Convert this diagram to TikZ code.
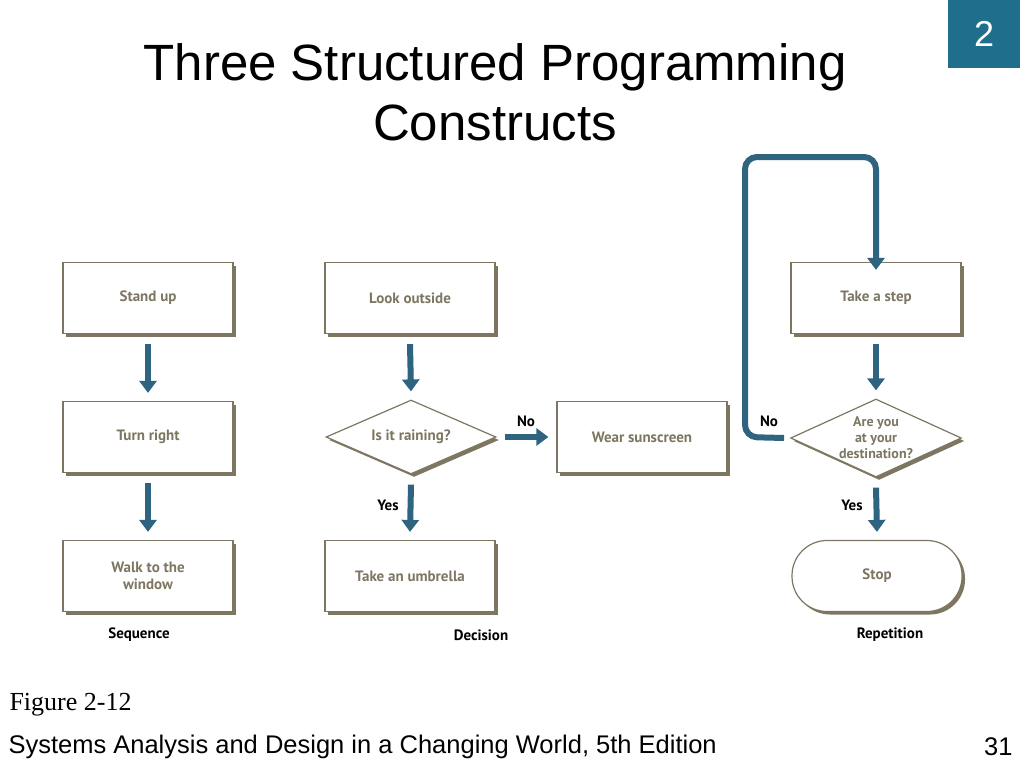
\documentclass[tikz,border=0pt]{standalone}
\usepackage{fontspec}
\setmainfont{Liberation Sans}
\newfontfamily\boxfont{PT Sans}
\newfontfamily\timesf{Liberation Serif}
\usetikzlibrary{arrows.meta,shapes.geometric,shadows}
\definecolor{flowblue}{HTML}{2E6480}
\definecolor{olive}{HTML}{7D7660}
\definecolor{tabblue}{HTML}{1F6E8C}
\begin{document}
\begin{tikzpicture}[x=1pt,y=-1pt,
  shad/.style={drop shadow={shadow xshift=3pt,shadow yshift=-3pt,fill=olive,opacity=1}},
  boxn/.style={draw=olive,line width=1.2pt,fill=white,minimum width=170pt,minimum height=71pt,inner sep=0pt,font=\boxfont\bfseries\fontsize{15}{17}\selectfont,text=olive,align=center,shad},
  dia/.style={boxn,diamond,aspect=2.3,minimum width=0pt,minimum height=0pt},
  arr/.style={draw=flowblue,line width=6pt,-{Triangle[width=17pt,length=12pt]}},
  lab/.style={font=\boxfont\bfseries\fontsize{15}{17}\selectfont,text=black}]
\useasboundingbox (0,0) rectangle (1024,768);
\fill[white] (0,0) rectangle (1024,768);
\node[fill=tabblue,minimum width=72pt,minimum height=68pt,text=white,font=\fontsize{36}{40}\selectfont,anchor=north west,inner sep=0pt] (tab) at (948,0) {2};
\node[font=\fontsize{51}{60}\selectfont,align=center] (title) at (495,92) {Three Structured Programming\\Constructs};
% sequence
\node[boxn] (s1) at (148,298) {Stand up};
\node[boxn] (s2) at (148,437) {Turn right};
\node[boxn] (s3) at (148,576) {Walk to the\\window};
\draw[arr] ([yshift=-10pt]s1.south) -- ([yshift=8pt]s2.north);
\draw[arr] ([yshift=-10pt]s2.south) -- ([yshift=8pt]s3.north);
% decision
\node[boxn] (d1) at (410,298) {Look outside};
\node[dia,minimum width=170pt,minimum height=74pt] (d2) at (411,437) {Is it raining?};
\node[boxn] (d3) at (642,437) {Wear sunscreen};
\node[boxn] (d4) at (410,576) {Take an umbrella};
\draw[arr] ([yshift=-10pt]d1.south) -- ([yshift=8pt]d2.north);
\draw[arr] ([xshift=8pt]d2.east) -- ([xshift=-8pt]d3.west);
\draw[arr] ([yshift=-10pt]d2.south) -- ([yshift=8pt]d4.north);
\node[lab] (no1) at (526,421) {No};
\node[lab] (yes1) at (388,505) {Yes};
% repetition
\node[boxn] (r1) at (876,298) {Take a step};
\node[dia,minimum width=170pt,minimum height=78pt,font=\boxfont\bfseries\fontsize{14}{16}\selectfont] (r2) at (876,438) {Are you\\at your\\destination?};
\node[boxn,rounded corners=35pt] (r3) at (877,576) {Stop};
\draw[arr] ([yshift=-10pt]r1.south) -- ([yshift=8pt]r2.north);
\draw[arr] ([yshift=-10pt]r2.south) -- ([yshift=8pt]r3.north);
\coordinate (lpA) at (745,437);
\coordinate (lpB) at (745,157);
\coordinate (lpC) at (876,157);
\draw[arr,rounded corners=12pt] ([xshift=-6pt]r2.west) -- (lpA) -- (lpB) -- (lpC) -- ([yshift=-8pt]r1.north);
\node[lab] (no2) at (769,421) {No};
\node[lab] (yes2) at (852,505) {Yes};
% captions
\node[lab] (c1) at (139,635) {Sequence};
\node[lab] (c2) at (481,635) {Decision};
\node[lab] (c3) at (890,635) {Repetition};
\node[font=\timesf\fontsize{26}{28}\selectfont,anchor=west] (fig) at (6,705) {Figure 2-12};
\node[font=\fontsize{25.5}{28}\selectfont,anchor=west] (foot) at (5,747) {Systems Analysis and Design in a Changing World, 5th Edition};
\node[font=\fontsize{25.5}{28}\selectfont,anchor=east] (pg) at (1016,747) {31};
\end{tikzpicture}
\end{document}
